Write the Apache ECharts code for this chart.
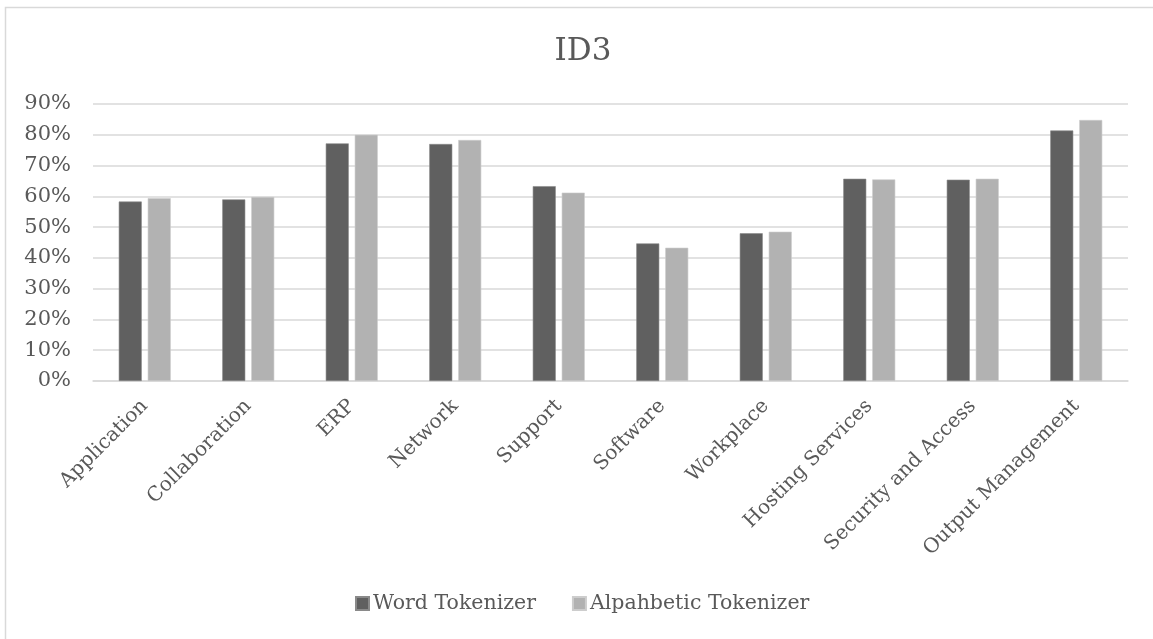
<!DOCTYPE html>
<html>
<head>
<meta charset="utf-8">
<script src="https://cdn.jsdelivr.net/npm/echarts@6/dist/echarts.min.js"></script>
<style>
  html, body { margin: 0; padding: 0; background: #fff; }
  #chart { width: 1153px; height: 639px; }
</style>
</head>
<body>
<div id="chart"></div>
<script>
// ID3 accuracy per category for two tokenizers
const categories = ['Application', 'Collaboration', 'ERP', 'Network', 'Support', 'Software',
  'Workplace', 'Hosting Services', 'Security and Access', 'Output Management'];
const wordTokenizer = [58.3, 59.0, 77.2, 77.0, 63.3, 44.7, 48.0, 65.7, 65.4, 81.4];
const alphabeticTokenizer = [59.4, 59.8, 80.0, 78.3, 61.2, 43.3, 48.5, 65.5, 65.7, 84.8];
const seriesNames = ['Word Tokenizer', 'Alpahbetic Tokenizer'];

const FONT = '"DejaVu Serif", "Liberation Serif", serif';
const TEXT = '#595959';

const chart = echarts.init(document.getElementById('chart'), null, { renderer: 'canvas' });
chart.setOption({
  animation: false,
  backgroundColor: '#fff',
  textStyle: { fontFamily: FONT, color: TEXT },
  title: {
    text: 'ID3',
    left: 578,
    textAlign: 'center',
    top: 31,
    textStyle: { fontFamily: FONT, fontSize: 31, fontWeight: 'normal', color: TEXT }
  },
  legend: {
    bottom: 20,
    left: 350,
    itemWidth: 13,
    itemHeight: 13,
    itemGap: 36,
    icon: 'rect',
    textStyle: { fontFamily: FONT, fontSize: 20.5, color: TEXT, padding: [0, 0, 0, -1] },
    data: seriesNames
  },
  graphic: [{
    type: 'rect',
    shape: { x: 5.5, y: 7.5, width: 1155, height: 650 },
    style: { fill: 'none', stroke: '#d9d9d9', lineWidth: 1.5 },
    silent: true
  }],
  grid: { left: 93, right: 25, top: 104, bottom: 258, containLabel: false },
  xAxis: {
    type: 'category',
    data: categories,
    axisLine: { lineStyle: { color: '#d9d9d9', width: 1.5 } },
    axisTick: { show: false },
    axisLabel: {
      rotate: 45,
      interval: 0,
      margin: 22,
      fontFamily: FONT,
      fontSize: 20,
      color: TEXT
    }
  },
  yAxis: {
    type: 'value',
    min: 0,
    max: 90,
    interval: 10,
    axisLine: { show: false },
    axisTick: { show: false },
    splitLine: { lineStyle: { color: '#d9d9d9', width: 1.5 } },
    axisLabel: {
      formatter: '{value}%',
      margin: 22,
      fontFamily: FONT,
      fontSize: 21,
      color: TEXT
    }
  },
  series: [
    {
      name: seriesNames[0],
      type: 'bar',
      data: wordTokenizer,
      barWidth: 23,
      barGap: '26%',
      itemStyle: { color: '#606060', borderColor: '#8a8a8a', borderWidth: 0.6 }
    },
    {
      name: seriesNames[1],
      type: 'bar',
      data: alphabeticTokenizer,
      barWidth: 23,
      barGap: '26%',
      itemStyle: { color: '#b2b2b2', borderColor: '#cdcdcd', borderWidth: 0.6 }
    }
  ]
});
</script>
</body>
</html>
